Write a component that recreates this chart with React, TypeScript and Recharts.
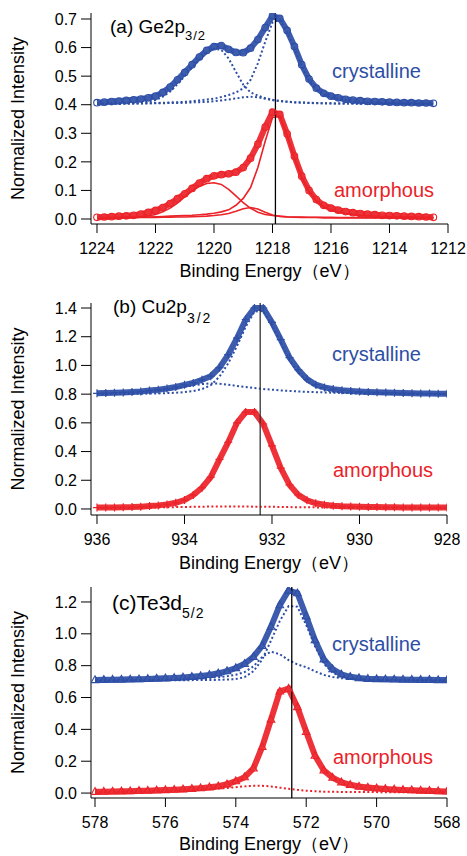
import React from "react";
import { ComposedChart, Line, XAxis, YAxis, ReferenceLine } from "recharts";

const BLUE = "#2D4EA6";
const RED = "#EB2228";
const FONT = "'Liberation Sans', Arial, sans-serif";

// ---------- (a) Ge2p3/2 ----------
const energyA = [
  1224, 1223.75, 1223.5, 1223.25, 1223, 1222.75, 1222.5, 1222.25, 1222,
  1221.75, 1221.5, 1221.25, 1221, 1220.75, 1220.5, 1220.25, 1220, 1219.75, 1219.5, 1219.25, 1219,
  1218.75, 1218.5, 1218.25, 1218, 1217.75, 1217.5, 1217.25, 1217, 1216.75, 1216.5, 1216.25, 1216,
  1215.75, 1215.5, 1215.25, 1215, 1214.75, 1214.5, 1214.25, 1214, 1213.75, 1213.5, 1213.25, 1213, 1212.75, 1212.5,
];
const crystA = [
  0.407, 0.409, 0.411, 0.413, 0.415, 0.417, 0.42, 0.424, 0.43,
  0.443, 0.462, 0.487, 0.513, 0.54, 0.567, 0.59, 0.603, 0.607, 0.594, 0.583, 0.582,
  0.598, 0.628, 0.67, 0.711, 0.702, 0.66, 0.604, 0.54, 0.49, 0.458, 0.44, 0.43,
  0.424, 0.419, 0.416, 0.414, 0.412, 0.411, 0.41, 0.409, 0.408, 0.407, 0.407, 0.406, 0.406, 0.405,
];
const crystFitA1 = [
  0.403, 0.403, 0.404, 0.404, 0.405, 0.406, 0.408, 0.411, 0.416,
  0.428, 0.446, 0.472, 0.5, 0.53, 0.558, 0.582, 0.596, 0.592, 0.562, 0.515, 0.47,
  0.443, 0.432, 0.423, 0.417, 0.413, 0.41, 0.408, 0.407, 0.406, 0.405, 0.405, 0.404,
  0.404, 0.404, 0.404, 0.403, 0.403, 0.403, 0.403, 0.403, 0.403, 0.403, 0.403, 0.403, 0.403, 0.403,
];
const crystFitA2 = [
  0.403, 0.403, 0.403, 0.404, 0.404, 0.404, 0.405, 0.405, 0.406,
  0.407, 0.408, 0.409, 0.41, 0.412, 0.415, 0.418, 0.421, 0.427, 0.434, 0.443, 0.457,
  0.487, 0.545, 0.62, 0.688, 0.697, 0.652, 0.597, 0.533, 0.484, 0.453, 0.436, 0.426,
  0.42, 0.416, 0.413, 0.411, 0.409, 0.408, 0.407, 0.406, 0.406, 0.405, 0.405, 0.404, 0.404, 0.404,
];
const crystFitA3 = [
  0.403, 0.403, 0.403, 0.403, 0.404, 0.404, 0.404, 0.405, 0.405,
  0.405, 0.406, 0.406, 0.407, 0.408, 0.409, 0.41, 0.412, 0.415, 0.418, 0.422, 0.426,
  0.428, 0.426, 0.421, 0.416, 0.413, 0.411, 0.409, 0.408, 0.407, 0.406, 0.405, 0.405,
  0.404, 0.404, 0.404, 0.404, 0.404, 0.403, 0.403, 0.403, 0.403, 0.403, 0.403, 0.403, 0.403, 0.403,
];
const amorA = [
  0.006, 0.007, 0.008, 0.01, 0.011, 0.013, 0.017, 0.023, 0.03,
  0.04, 0.054, 0.071, 0.088, 0.107, 0.126, 0.141, 0.151, 0.155, 0.158, 0.164, 0.18,
  0.213, 0.262, 0.322, 0.374, 0.366, 0.298, 0.22, 0.15, 0.1, 0.068, 0.048, 0.038,
  0.031, 0.026, 0.022, 0.019, 0.017, 0.015, 0.013, 0.012, 0.011, 0.01, 0.009, 0.008, 0.007, 0.006,
];
const amorFitA1 = [
  0.005, 0.005, 0.005, 0.006, 0.006, 0.007, 0.008, 0.011, 0.016,
  0.025, 0.038, 0.056, 0.077, 0.098, 0.114, 0.124, 0.127, 0.121, 0.104, 0.081, 0.057,
  0.037, 0.024, 0.016, 0.012, 0.01, 0.008, 0.007, 0.007, 0.006, 0.006, 0.006, 0.006,
  0.005, 0.005, 0.005, 0.005, 0.005, 0.005, 0.005, 0.005, 0.005, 0.005, 0.005, 0.005, 0.005, 0.005,
];
const amorFitA2 = [
  0.004, 0.004, 0.004, 0.004, 0.004, 0.004, 0.005, 0.005, 0.005,
  0.006, 0.006, 0.007, 0.007, 0.008, 0.009, 0.01, 0.012, 0.015, 0.019, 0.027, 0.036,
  0.04, 0.035, 0.024, 0.014, 0.009, 0.007, 0.006, 0.005, 0.005, 0.005, 0.004, 0.004,
  0.004, 0.004, 0.004, 0.004, 0.004, 0.004, 0.004, 0.004, 0.004, 0.004, 0.004, 0.004, 0.004, 0.004,
];
const amorFitA3 = [
  0.004, 0.004, 0.005, 0.005, 0.006, 0.006, 0.007, 0.007, 0.008,
  0.009, 0.01, 0.011, 0.012, 0.013, 0.015, 0.017, 0.02, 0.025, 0.032, 0.048, 0.072,
  0.11, 0.18, 0.272, 0.355, 0.36, 0.292, 0.213, 0.145, 0.096, 0.063, 0.043, 0.031,
  0.024, 0.019, 0.016, 0.013, 0.012, 0.01, 0.009, 0.008, 0.008, 0.007, 0.007, 0.006, 0.006, 0.005,
];
const xTicksA = [1224, 1222, 1220, 1218, 1216, 1214, 1212];
const yTicksA = [0, 0.1, 0.2, 0.3, 0.4, 0.5, 0.6, 0.7];

// ---------- (b) Cu2p3/2 ----------
const energyB = [
  936, 935.8, 935.6, 935.4, 935.2, 935,
  934.8, 934.6, 934.4, 934.2, 934,
  933.8, 933.6, 933.4, 933.2, 933,
  932.8, 932.6, 932.4, 932.2, 932,
  931.8, 931.6, 931.4, 931.2, 931,
  930.8, 930.6, 930.4, 930.2, 930,
  929.8, 929.6, 929.4, 929.2, 929,
  928.8, 928.6, 928.4, 928.2, 928,
];
const crystB = [
  0.806, 0.808, 0.81, 0.812, 0.815, 0.819,
  0.825, 0.831, 0.839, 0.85, 0.865,
  0.878, 0.9, 0.925, 0.985, 1.075,
  1.19, 1.32, 1.4, 1.4, 1.3,
  1.18, 1.055, 0.97, 0.905, 0.866,
  0.847, 0.835, 0.827, 0.822, 0.818,
  0.815, 0.813, 0.811, 0.809, 0.808,
  0.806, 0.805, 0.804, 0.803, 0.802,
];
const crystFitB1 = [
  0.8, 0.8, 0.801, 0.801, 0.802, 0.803,
  0.804, 0.805, 0.807, 0.81, 0.814,
  0.821, 0.835, 0.862, 0.922, 1.015,
  1.135, 1.27, 1.375, 1.38, 1.28,
  1.16, 1.035, 0.95, 0.888, 0.85,
  0.83, 0.818, 0.811, 0.807, 0.804,
  0.803, 0.802, 0.801, 0.801, 0.8,
  0.8, 0.8, 0.8, 0.8, 0.8,
];
const crystFitB2 = [
  0.802, 0.803, 0.805, 0.807, 0.81, 0.814,
  0.819, 0.825, 0.832, 0.841, 0.851,
  0.861, 0.87, 0.875, 0.873, 0.866,
  0.857, 0.849, 0.842, 0.836, 0.831,
  0.826, 0.822, 0.819, 0.816, 0.814,
  0.812, 0.81, 0.808, 0.807, 0.806,
  0.805, 0.804, 0.804, 0.803, 0.803,
  0.802, 0.802, 0.802, 0.801, 0.801,
];
const amorB = [
  0.01, 0.01, 0.011, 0.012, 0.013, 0.016,
  0.02, 0.025, 0.032, 0.043, 0.062,
  0.097, 0.148, 0.222, 0.345, 0.465,
  0.6, 0.675, 0.675, 0.592, 0.44,
  0.285, 0.168, 0.098, 0.06, 0.04,
  0.029, 0.023, 0.019, 0.017, 0.015,
  0.014, 0.013, 0.012, 0.012, 0.011,
  0.011, 0.01, 0.01, 0.01, 0.01,
];
const amorFitB1 = [
  0.006, 0.007, 0.007, 0.008, 0.008, 0.009,
  0.01, 0.011, 0.012, 0.013, 0.014,
  0.015, 0.016, 0.017, 0.017, 0.018,
  0.017, 0.017, 0.016, 0.016, 0.015,
  0.014, 0.013, 0.012, 0.012, 0.011,
  0.01, 0.01, 0.009, 0.009, 0.009,
  0.008, 0.008, 0.008, 0.008, 0.008,
  0.007, 0.007, 0.007, 0.007, 0.007,
];
const xTicksB = [936, 934, 932, 930, 928];
const yTicksB = [0, 0.2, 0.4, 0.6, 0.8, 1.0, 1.2, 1.4];

// ---------- (c) Te3d5/2 ----------
const energyC = [
  578, 577.75, 577.5, 577.25, 577,
  576.75, 576.5, 576.25, 576,
  575.75, 575.5, 575.25, 575,
  574.75, 574.5, 574.25, 574,
  573.75, 573.5, 573.25, 573,
  572.75, 572.5, 572.25, 572,
  571.75, 571.5, 571.25, 571,
  570.75, 570.5, 570.25, 570,
  569.75, 569.5, 569.25, 569,
  568.75, 568.5, 568.25, 568,
];
const crystC = [
  0.71, 0.711, 0.712, 0.713, 0.714,
  0.715, 0.717, 0.719, 0.721,
  0.723, 0.726, 0.73, 0.735,
  0.742, 0.752, 0.766, 0.785,
  0.812, 0.855, 0.925, 1.045,
  1.18, 1.272, 1.255, 1.11,
  0.96, 0.84, 0.778, 0.745,
  0.73, 0.722, 0.718, 0.716,
  0.715, 0.714, 0.713, 0.712,
  0.711, 0.711, 0.71, 0.71,
];
const crystFitC1 = [
  0.706, 0.706, 0.706, 0.707, 0.707,
  0.707, 0.707, 0.708, 0.708,
  0.708, 0.709, 0.709, 0.71,
  0.71, 0.711, 0.713, 0.716,
  0.728, 0.765, 0.838, 0.958,
  1.08, 1.175, 1.17, 1.055,
  0.922, 0.812, 0.756, 0.731,
  0.72, 0.715, 0.712, 0.71,
  0.709, 0.709, 0.708, 0.708,
  0.708, 0.708, 0.707, 0.707,
];
const crystFitC2 = [
  0.706, 0.706, 0.707, 0.707, 0.708,
  0.708, 0.709, 0.71, 0.711,
  0.712, 0.714, 0.716, 0.719,
  0.723, 0.728, 0.734, 0.743,
  0.76, 0.795, 0.855, 0.888,
  0.872, 0.835, 0.808, 0.79,
  0.765, 0.742, 0.729, 0.721,
  0.717, 0.714, 0.712, 0.711,
  0.71, 0.709, 0.709, 0.708,
  0.708, 0.708, 0.707, 0.707,
];
const amorC = [
  0.008, 0.009, 0.01, 0.011, 0.012,
  0.014, 0.015, 0.017, 0.019,
  0.021, 0.024, 0.027, 0.031,
  0.036, 0.043, 0.055, 0.075,
  0.1, 0.155, 0.29, 0.462,
  0.638, 0.656, 0.54, 0.385,
  0.235, 0.142, 0.097, 0.068,
  0.052, 0.041, 0.035, 0.03,
  0.026, 0.023, 0.02, 0.018,
  0.016, 0.014, 0.012, 0.01,
];
const amorFitC1 = [
  0.005, 0.006, 0.006, 0.007, 0.008,
  0.009, 0.01, 0.011, 0.012,
  0.014, 0.016, 0.018, 0.021,
  0.024, 0.028, 0.032, 0.037,
  0.042, 0.046, 0.046, 0.041,
  0.034, 0.027, 0.02, 0.015,
  0.011, 0.009, 0.008, 0.007,
  0.006, 0.006, 0.006, 0.006,
  0.005, 0.005, 0.005, 0.005,
  0.005, 0.005, 0.005, 0.005,
];
const xTicksC = [578, 576, 574, 572, 570, 568];
const yTicksC = [0, 0.2, 0.4, 0.6, 0.8, 1.0, 1.2];

type Row = Record<string, number>;

function buildRows(energy: number[], cols: Record<string, number[]>): Row[] {
  return energy.map((e, i) => {
    const row: Row = { e };
    for (const k of Object.keys(cols)) row[k] = cols[k][i];
    return row;
  });
}

const circleMarker = (color: string) => (p: any) => (
  <circle key={`c-${p.index}`} cx={p.cx} cy={p.cy} r={3.3} fill="none" stroke={color} strokeWidth={1.1} />
);
const crossMarker = (color: string) => (p: any) => (
  <path
    key={`x-${p.index}`}
    d={`M${p.cx - 4},${p.cy}H${p.cx + 4}M${p.cx},${p.cy - 4}V${p.cy + 4}`}
    stroke={color}
    strokeWidth={1.2}
    fill="none"
  />
);
const triangleMarker = (color: string) => (p: any) => (
  <path
    key={`t-${p.index}`}
    d={`M${p.cx},${p.cy - 4.2}L${p.cx + 3.8},${p.cy + 2.6}L${p.cx - 3.8},${p.cy + 2.6}Z`}
    fill="none"
    stroke={color}
    strokeWidth={1.1}
  />
);

type PanelProps = {
  top: number;
  height: number;
  marginTop: number;
  marginRight: number;
  axisHeight: number;
  xLabelOffset: number;
  xDomain: [number, number];
  yDomain: [number, number];
  xTicks: number[];
  yTicks: number[];
  rows: Row[];
  marker: (c: string) => (p: any) => React.ReactElement;
  peak: number;
  peakColor: string;
  blueFits: string[];
  redFits: string[];
  redFitSolid: boolean;
  children?: React.ReactNode;
};

const tickStyle = { fill: "#000", fontSize: 16, fontFamily: FONT };

function Panel(props: PanelProps) {
  const p = props;
  return (
    <div style={{ position: "absolute", left: 0, top: p.top, width: 467, height: p.height }}>
      <ComposedChart
        width={467}
        height={p.height}
        data={p.rows}
        margin={{ top: p.marginTop, right: p.marginRight, bottom: 0, left: 0 }}
      >
        <XAxis
          type="number"
          dataKey="e"
          domain={p.xDomain}
          reversed
          allowDataOverflow
          ticks={p.xTicks}
          interval={0}
          height={p.axisHeight}
          tickSize={9}
          tickMargin={10}
          tick={tickStyle}
          axisLine={{ stroke: "#000", strokeWidth: 1 }}
          tickLine={{ stroke: "#000", strokeWidth: 1 }}
          label={{
            value: "Binding Energy（eV）",
            position: "insideBottom",
            offset: p.xLabelOffset,
            fill: "#000",
            fontSize: 18,
            fontFamily: FONT,
          }}
        />
        <YAxis
          type="number"
          domain={p.yDomain}
          allowDataOverflow
          ticks={p.yTicks}
          interval={0}
          width={91}
          tickSize={10}
          tickMargin={4}
          tick={tickStyle}
          tickFormatter={(v: number) => v.toFixed(1)}
          axisLine={{ stroke: "#000", strokeWidth: 1 }}
          tickLine={{ stroke: "#000", strokeWidth: 1 }}
          label={{
            value: "Normalized Intensity",
            angle: -90,
            position: "insideLeft",
            offset: 18,
            fill: "#000",
            fontSize: 18,
            fontFamily: FONT,
            style: { textAnchor: "middle" },
          }}
        />
        <Line
          dataKey="cryst"
          stroke={BLUE}
          strokeWidth={6}
          strokeOpacity={0.92}
          dot={p.marker(BLUE)}
          activeDot={false}
          isAnimationActive={false}
        />
        <Line
          dataKey="amor"
          stroke={RED}
          strokeWidth={6}
          strokeOpacity={0.92}
          dot={p.marker(RED)}
          activeDot={false}
          isAnimationActive={false}
        />
        {p.blueFits.map((k) => (
          <Line
            key={k}
            dataKey={k}
            stroke={BLUE}
            strokeWidth={2}
            strokeDasharray="2 2.4"
            dot={false}
            activeDot={false}
            isAnimationActive={false}
          />
        ))}
        {p.redFits.map((k) => (
          <Line
            key={k}
            dataKey={k}
            stroke={RED}
            strokeWidth={p.redFitSolid ? 1.6 : 2}
            strokeDasharray={p.redFitSolid ? undefined : "2 2.4"}
            dot={false}
            activeDot={false}
            isAnimationActive={false}
          />
        ))}
        <ReferenceLine x={p.peak} stroke={p.peakColor} strokeWidth={1.3} ifOverflow="extendDomain" />
      </ComposedChart>
      <svg
        width={467}
        height={p.height}
        style={{ position: "absolute", left: 0, top: 0, pointerEvents: "none" }}
      >
        {p.children}
      </svg>
    </div>
  );
}

const labelText = { fontFamily: FONT, fontSize: 20 };

export default function App() {
  const rowsA = buildRows(energyA, {
    cryst: crystA,
    fa1: crystFitA1,
    fa2: crystFitA2,
    fa3: crystFitA3,
    amor: amorA,
    ra1: amorFitA1,
    ra2: amorFitA2,
    ra3: amorFitA3,
  });
  const rowsB = buildRows(energyB, {
    cryst: crystB,
    fb1: crystFitB1,
    fb2: crystFitB2,
    amor: amorB,
    rb1: amorFitB1,
  });
  const rowsC = buildRows(energyC, {
    cryst: crystC,
    fc1: crystFitC1,
    fc2: crystFitC2,
    amor: amorC,
    rc1: amorFitC1,
  });

  return (
    <div style={{ position: "absolute", left: 0, top: 0, width: 467, height: 856, background: "#fff" }}>
      <Panel
        top={0}
        height={290}
        marginTop={13}
        marginRight={19}
        axisHeight={66}
        xLabelOffset={13}
        xDomain={[1212, 1224.205]}
        yDomain={[-0.0175, 0.721]}
        xTicks={xTicksA}
        yTicks={yTicksA}
        rows={rowsA}
        marker={circleMarker}
        peak={1217.9}
        peakColor="#000"
        blueFits={["fa1", "fa2", "fa3"]}
        redFits={["ra1", "ra2", "ra3"]}
        redFitSolid
      >
        <text x={110} y={33} fontFamily={FONT} fontSize={19} fill="#000">
          (a) Ge2p
          <tspan fontSize={13} dy={7} letterSpacing={1}>3/2</tspan>
        </text>
        <text x={332} y={78} {...labelText} fill={BLUE}>crystalline</text>
        <text x={334} y={197} {...labelText} fill={RED}>amorphous</text>
      </Panel>
      <Panel
        top={290}
        height={290}
        marginTop={13}
        marginRight={20}
        axisHeight={65}
        xLabelOffset={11}
        xDomain={[928, 936.137]}
        yDomain={[-0.042, 1.435]}
        xTicks={xTicksB}
        yTicks={yTicksB}
        rows={rowsB}
        marker={crossMarker}
        peak={932.27}
        peakColor="#333"
        blueFits={["fb1", "fb2"]}
        redFits={["rb1"]}
        redFitSolid={false}
      >
        <text x={113} y={23} fontFamily={FONT} fontSize={19} fill="#000">
          (b) Cu2p
          <tspan fontSize={14} dy={10} letterSpacing={2}>3/2</tspan>
        </text>
        <text x={332} y={71} {...labelText} fill={BLUE}>crystalline</text>
        <text x={333} y={187} {...labelText} fill={RED}>amorphous</text>
      </Panel>
      <Panel
        top={580}
        height={276}
        marginTop={7}
        marginRight={20}
        axisHeight={58}
        xLabelOffset={6}
        xDomain={[568, 578.114]}
        yDomain={[-0.031, 1.294]}
        xTicks={xTicksC}
        yTicks={yTicksC}
        rows={rowsC}
        marker={triangleMarker}
        peak={572.41}
        peakColor="#000"
        blueFits={["fc1", "fc2"]}
        redFits={["rc1"]}
        redFitSolid={false}
      >
        <text x={112} y={30} fontFamily={FONT} fontSize={21} fill="#000">
          (c)Te3d
          <tspan fontSize={14} dy={8} letterSpacing={1}>5/2</tspan>
        </text>
        <text x={332} y={71} {...labelText} fill={BLUE}>crystalline</text>
        <text x={333} y={184} {...labelText} fill={RED}>amorphous</text>
      </Panel>
    </div>
  );
}
